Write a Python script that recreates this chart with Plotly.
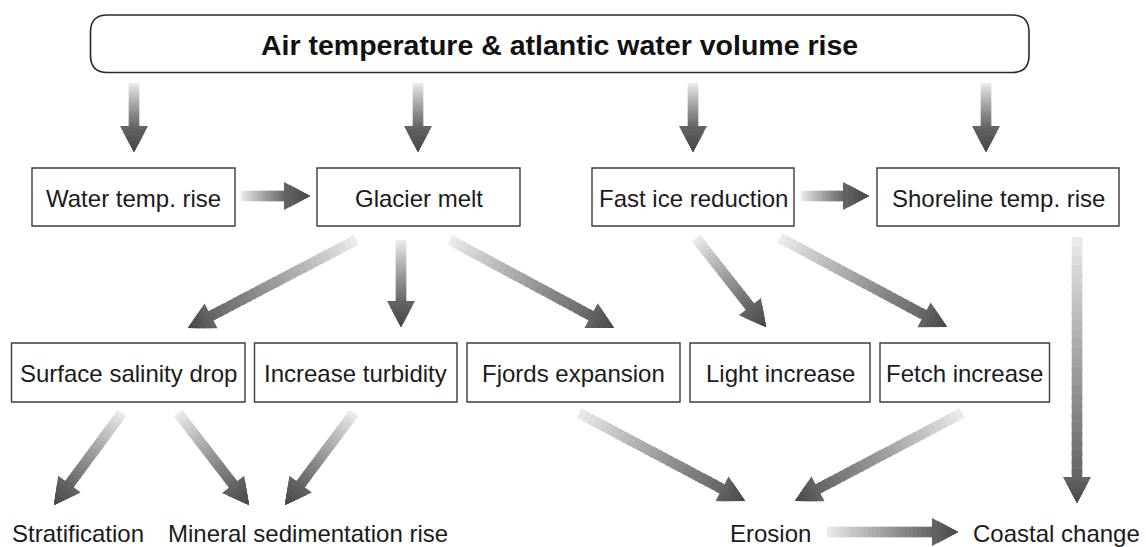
import numpy as np
import plotly.graph_objects as go

W, H = 1146, 547

# ---- content ----
title_text = "Air temperature & atlantic water volume rise"
row2_labels = ["Water temp. rise", "Glacier melt", "Fast ice reduction", "Shoreline temp. rise"]
row3_labels = ["Surface salinity drop", "Increase turbidity", "Fjords expansion",
               "Light increase", "Fetch increase"]
outcome_labels = ["Stratification", "Mineral sedimentation rise", "Erosion", "Coastal change"]

# ---- diagram layout (pixel coordinates) ----
title_box = (90.5, 15, 1029, 72.5)
row2_x0 = [32, 317, 592, 877]
row2_x1 = [235, 520, 794, 1119]
row2_y = (168, 226)
row3_x0 = [11.5, 254.5, 467, 690, 880]
row3_x1 = [245, 457, 680, 870, 1049.5]
row3_y = (343, 402)
outcome_x = [77.5, 308, 770, 1056]
outcome_y = 533

arrow_tail_x = [134, 418, 693, 986, 241, 801, 356, 401, 450, 696, 780, 1077, 122, 178, 354, 579, 962, 827]
arrow_tail_y = [83, 83, 83, 83, 196, 196, 240, 240, 240, 238, 238, 237, 413, 413, 413, 413, 413, 532]
arrow_tip_x = [134, 418, 693, 986, 310, 869, 188, 401, 614, 766, 947, 1077, 54, 249, 285, 745, 795, 958]
arrow_tip_y = [152, 152, 152, 152, 196, 196, 328, 327, 328, 327, 327, 503, 505, 505, 505, 501, 501, 532]

FONT = "Liberation Sans, Arial, Helvetica, sans-serif"
TXT = "#1b1b1b"
EDGE = "#3c3c3c"

shapes = []


def gray(v):
    v = int(round(v))
    return f"rgb({v},{v},{v})"


def poly(pts, color):
    d = "M " + " L ".join(f"{x:.2f},{y:.2f}" for x, y in pts) + " Z"
    return dict(type="path", path=d, xref="x", yref="y", fillcolor=color,
                line=dict(width=0), layer="above")


def add_arrow(x0, y0, x1, y1, shaft_w=10.5, head_w=28, head_l=26, n=26, m=5):
    tail = np.array([x0, y0], float)
    tip = np.array([x1, y1], float)
    d = tip - tail
    L = np.hypot(*d)
    u = d / L
    p = np.array([-u[1], u[0]])
    ls = L - head_l + 1.5
    hw = shaft_w / 2
    c0, c1 = 238, 100
    for i in range(n):
        t0 = i / n
        t1 = min((i + 1) / n + 0.02, 1.0)
        a = tail + u * ls * t0
        b = tail + u * ls * t1
        col = c0 + (c1 - c0) * ((i + 0.5) / n) ** 0.9
        shapes.append(poly([a + p * hw, b + p * hw, b - p * hw, a - p * hw], gray(col)))
    # head: nested triangles sharing the tip (no seams), darkening toward the tip
    h0, h1 = 98, 74
    for j in range(m):
        f = 1 - j / m
        hl = head_l * f
        base = tip - u * hl
        w = head_w / 2 * f
        col = h0 + (h1 - h0) * (j / max(m - 1, 1))
        shapes.append(poly([base + p * w, tip, base - p * w], gray(col)))


for tx, ty, hx, hy in zip(arrow_tail_x, arrow_tail_y, arrow_tip_x, arrow_tip_y):
    add_arrow(tx, ty, hx, hy)

# rounded title box
x0, y0, x1, y1 = title_box
r = 17
rp = (f"M {x0 + r},{y0} L {x1 - r},{y0} Q {x1},{y0} {x1},{y0 + r} "
      f"L {x1},{y1 - r} Q {x1},{y1} {x1 - r},{y1} L {x0 + r},{y1} "
      f"Q {x0},{y1} {x0},{y1 - r} L {x0},{y0 + r} Q {x0},{y0} {x0 + r},{y0} Z")
shapes.append(dict(type="path", path=rp, xref="x", yref="y", fillcolor="white",
                   line=dict(color="#2a2a2a", width=1.6)))

for a, b in zip(row2_x0, row2_x1):
    shapes.append(dict(type="rect", x0=a, x1=b, y0=row2_y[0], y1=row2_y[1], xref="x", yref="y",
                       line=dict(color=EDGE, width=1.4), fillcolor="white"))
for a, b in zip(row3_x0, row3_x1):
    shapes.append(dict(type="rect", x0=a, x1=b, y0=row3_y[0], y1=row3_y[1], xref="x", yref="y",
                       line=dict(color=EDGE, width=1.4), fillcolor="white"))

annotations = []
annotations.append(dict(x=(x0 + x1) / 2, y=(y0 + y1) / 2 + 1, text=f"<b>{title_text}</b>",
                        showarrow=False, xref="x", yref="y", xanchor="center", yanchor="middle",
                        font=dict(family=FONT, size=28.5, color="#111")))
for lab, a, b in zip(row2_labels, row2_x0, row2_x1):
    annotations.append(dict(x=(a + b) / 2, y=(row2_y[0] + row2_y[1]) / 2 + 1, text=lab,
                            showarrow=False, xref="x", yref="y", xanchor="center", yanchor="middle",
                            font=dict(family=FONT, size=24, color=TXT)))
for lab, a, b in zip(row3_labels, row3_x0, row3_x1):
    annotations.append(dict(x=(a + b) / 2, y=(row3_y[0] + row3_y[1]) / 2 + 1, text=lab,
                            showarrow=False, xref="x", yref="y", xanchor="center", yanchor="middle",
                            font=dict(family=FONT, size=24, color=TXT)))
for lab, cx in zip(outcome_labels, outcome_x):
    annotations.append(dict(x=cx, y=outcome_y, text=lab, showarrow=False, xref="x", yref="y",
                            xanchor="center", yanchor="middle",
                            font=dict(family=FONT, size=24, color=TXT)))

fig = go.Figure()
fig.add_trace(go.Scatter(x=[0, W], y=[0, H], mode="markers", marker=dict(opacity=0),
                         hoverinfo="skip", showlegend=False))
fig.update_layout(
    width=W, height=H, margin=dict(l=0, r=0, t=0, b=0),
    paper_bgcolor="white", plot_bgcolor="white",
    xaxis=dict(range=[0, W], visible=False, fixedrange=True),
    yaxis=dict(range=[H, 0], visible=False, fixedrange=True),
    shapes=shapes, annotations=annotations, showlegend=False,
)
fig.write_html("out.html", config=dict(displayModeBar=False),
               post_script="document.body.style.margin='0';document.body.style.overflow='hidden';")
